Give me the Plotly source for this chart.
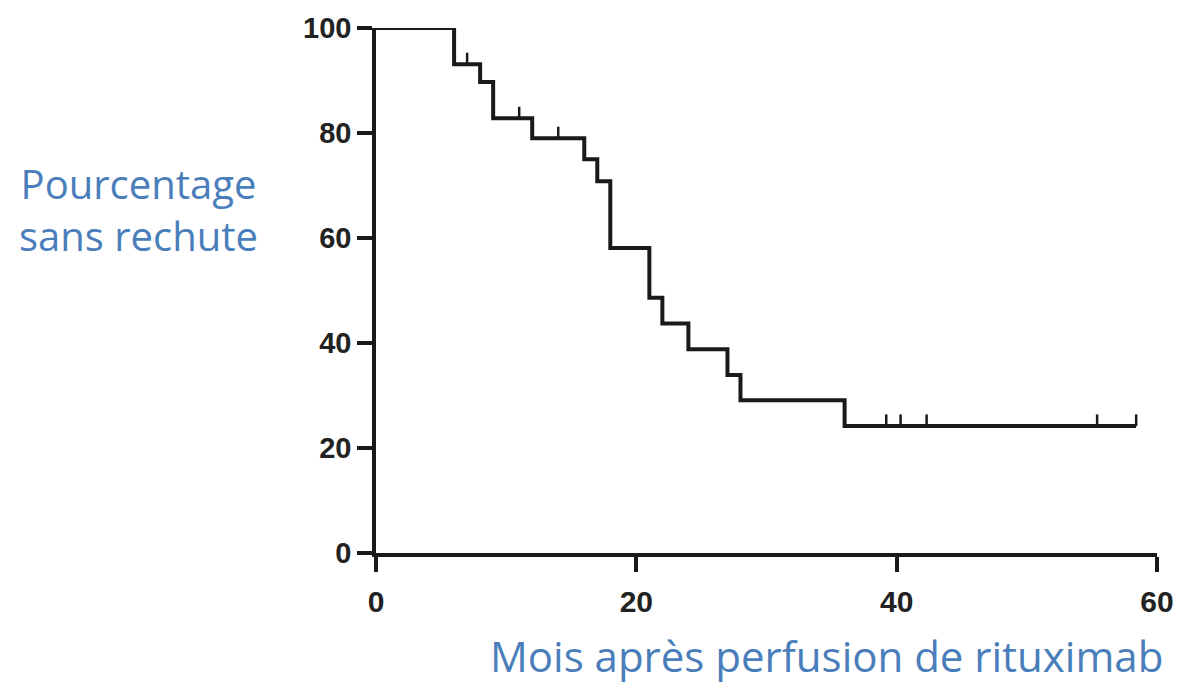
import plotly.graph_objects as go

# Kaplan-Meier step data (months, % relapse-free)
times = [0, 6, 8, 9, 12, 16, 17, 18, 21, 22, 24, 27, 28, 36, 58.4]
surv = [100, 93.1, 89.7, 82.8, 79.0, 75.0, 70.8, 58.1, 48.6, 43.7, 38.8, 33.9, 29.1, 24.2, 24.2]

# censored observations
cens_t = [4, 7, 11, 14, 39.2, 40.3, 42.3, 55.4, 58.4]
cens_s = [100, 93.1, 82.8, 79.0, 24.2, 24.2, 24.2, 24.2, 24.2]

x_ticks = [0, 20, 40, 60]
y_ticks = [0, 20, 40, 60, 80, 100]

ylabel = "Pourcentage<br>sans rechute"
xlabel = "Mois après perfusion de rituximab"

fig = go.Figure()
fig.add_trace(go.Scatter(x=times, y=surv, mode="lines", line_shape="hv",
                         line=dict(color="#1a1a1a", width=4), cliponaxis=False,
                         showlegend=False, hoverinfo="skip"))
fig.add_trace(go.Scatter(x=cens_t, y=cens_s, mode="markers",
                         marker=dict(size=1, color="rgba(0,0,0,0)"),
                         error_y=dict(type="data", symmetric=False,
                                      array=[2.2] * len(cens_t),
                                      arrayminus=[0] * len(cens_t),
                                      color="#1a1a1a", thickness=2.5, width=0),
                         cliponaxis=False, showlegend=False, hoverinfo="skip"))

axis_common = dict(showline=True, linecolor="#1a1a1a", linewidth=3.5,
                   ticks="outside", ticklen=15, tickwidth=3.5, tickcolor="#1a1a1a",
                   showgrid=False, zeroline=False)

fig.update_xaxes(range=[0, 60], tickvals=x_ticks, ticklabelstandoff=4,
                 tickfont=dict(family="Liberation Sans Narrow, Liberation Sans, Arial",
                               size=30, color="#222222", weight="bold"),
                 **axis_common)
fig.update_yaxes(range=[0, 100], tickvals=y_ticks, ticklabelstandoff=0,
                 tickfont=dict(family="Liberation Sans, Arial", size=29,
                               color="#222222", weight="bold"),
                 **axis_common)

fig.update_layout(
    width=1188, height=688,
    margin=dict(l=376, r=31, t=28, b=135),
    plot_bgcolor="white", paper_bgcolor="white",
    annotations=[
        dict(text=ylabel, xref="paper", yref="paper", x=-0.1485, y=0.655,
             xanchor="right", yanchor="middle", showarrow=False, align="center",
             font=dict(family="Open Sans, Lato", size=40, color="#4a7ebb")),
        dict(text=xlabel, xref="paper", yref="paper", x=1.0102, y=-0.196,
             xanchor="right", yanchor="middle", showarrow=False,
             font=dict(family="Open Sans, Lato", size=42, color="#4a7ebb")),
    ],
)

fig.write_html("out.html")
